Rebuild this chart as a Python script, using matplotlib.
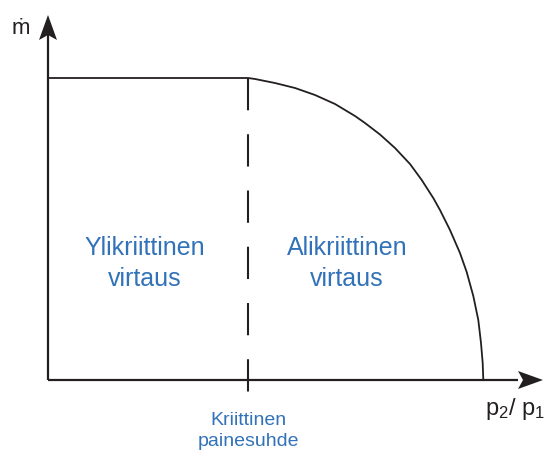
import matplotlib
matplotlib.use("Agg")
import matplotlib.pyplot as plt
from matplotlib.patches import Polygon

# Data (normalised units: x = p2/p1, y = mass flow)
critical_ratio = 0.46
curve_x = [0.0, 0.4598, 0.4759, 0.5218, 0.5678, 0.6138, 0.6598, 0.7057, 0.7287,
           0.7632, 0.7977, 0.8322, 0.8591, 0.8857, 0.9011, 0.9241, 0.9471,
           0.9625, 0.9777, 0.9892, 0.9954, 0.9993, 1.0007]
curve_y = [1.0, 1.0, 0.9967, 0.9834, 0.9669, 0.9437, 0.9139, 0.8742, 0.8510,
           0.8129, 0.7682, 0.7152, 0.6623, 0.6026, 0.5629, 0.4967, 0.4205,
           0.3576, 0.2781, 0.1987, 0.1225, 0.0563, 0.0]
region_labels = ["Ylikriittinen\nvirtaus", "Alikriittinen\nvirtaus"]
region_x = [0.222, 0.687]
region_y = [0.385, 0.385]
critical_label = "Kriittinen\npainesuhde"
ylabel = "ṁ"
xlabel = r"$\mathregular{p_2/\ p_1}$"

plt.rcParams['mathtext.fontset'] = 'custom'
plt.rcParams['mathtext.rm'] = 'Liberation Sans'
plt.rcParams['mathtext.it'] = 'Liberation Sans'

fig = plt.figure(figsize=(5.44, 4.51), dpi=100)
ax = fig.add_axes([0, 0, 1, 1])
ax.set_xlim(-48 / 435, (544 - 48) / 435)
ax.set_ylim(-71 / 302, 380 / 302)
ax.axis('off')

dark = '#231f20'
blue = '#3272B8'

# axes lines
ymax = 1.16
xmax = 1.08
ax.plot([0, 0], [0, ymax], color=dark, lw=1.6, solid_capstyle='butt')
ax.plot([0, xmax], [0, 0], color=dark, lw=1.6, solid_capstyle='butt')

# arrow heads (stealth style)
def yarrow(xc, ytip):
    hw = 9 / 435
    hl = 25 / 302
    notch = 5 / 302
    return Polygon([[xc, ytip], [xc + hw, ytip - hl], [xc, ytip - hl + notch],
                    [xc - hw, ytip - hl]], closed=True, color=dark, lw=0)

def xarrow(xtip, yc):
    hw = 9 / 302
    hl = 25 / 435
    notch = 5 / 435
    return Polygon([[xtip, yc], [xtip - hl, yc + hw], [xtip - hl + notch, yc],
                    [xtip - hl, yc - hw]], closed=True, color=dark, lw=0)

ax.add_patch(yarrow(0.0, (380 - 15) / 302))
ax.add_patch(xarrow((543 - 48) / 435, 0.0))

# curve
ax.plot(curve_x, curve_y, color=dark, lw=1.3, solid_joinstyle='round')

# dashed critical line
ax.plot([critical_ratio, critical_ratio], [1.0, -0.05], color=dark, lw=1.5,
        dashes=(15.5, 11.5))

fam = ['Liberation Sans', 'DejaVu Sans']
for lab, x, y in zip(region_labels, region_x, region_y):
    ax.text(x, y, lab, color=blue, fontsize=18, ha='center', va='center',
            family=fam, linespacing=1.35)

ax.text(critical_ratio, -0.17, critical_label, color=blue, fontsize=14,
        ha='center', va='center', family=fam, linespacing=1.3)

ax.text(-36 / 435, (380 - 28) / 302, ylabel, color=dark, fontsize=16,
        ha='left', va='center', family=fam)
ax.text((485 - 48) / 435, (380 - 396) / 302, xlabel, color=dark, fontsize=17,
        ha='left', va='top', family=fam)

fig.savefig('out.png', dpi=100)
